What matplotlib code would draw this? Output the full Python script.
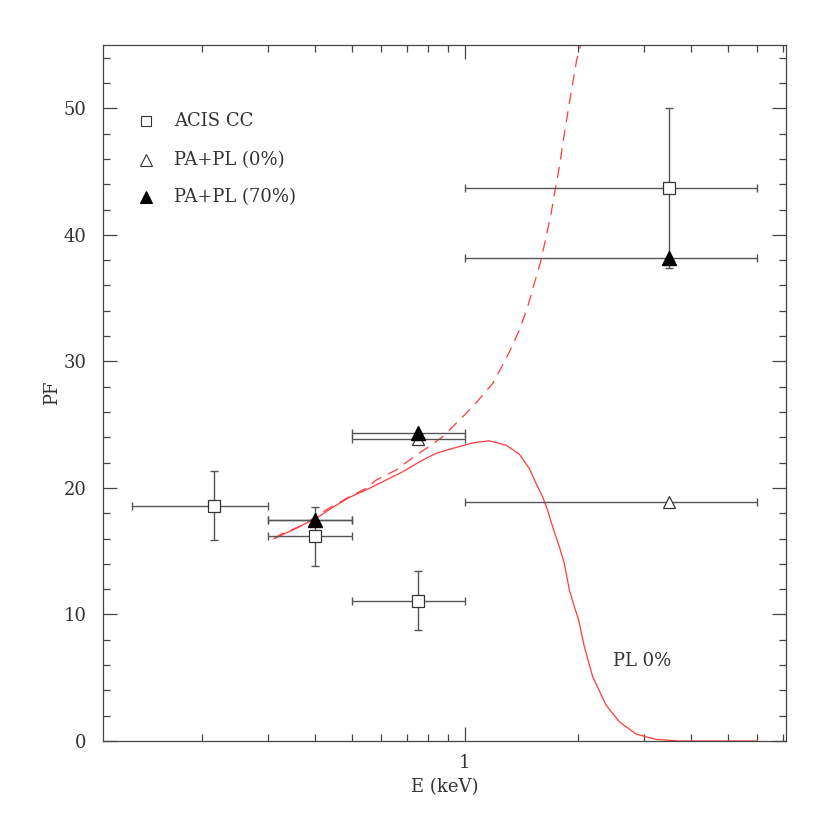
import matplotlib
matplotlib.use("Agg")
import matplotlib.pyplot as plt
import numpy as np
from matplotlib.ticker import MultipleLocator, LogLocator, NullFormatter

# ACIS CC points (open squares)
acis_e = [0.215, 0.40, 0.75, 3.5]
acis_elo = [0.13, 0.30, 0.50, 1.0]
acis_ehi = [0.30, 0.50, 1.00, 6.0]
acis_pf = [18.6, 16.2, 11.1, 43.7]
acis_pf_lo = [15.9, 13.8, 8.8, 37.4]
acis_pf_hi = [21.3, 18.5, 13.4, 50.0]

# PA+PL model points
pa_e = [0.40, 0.75, 3.5]
pa_elo = [0.30, 0.50, 1.0]
pa_ehi = [0.50, 1.00, 6.0]
pa0_pf = [17.5, 23.9, 18.9]
pa70_pf = [17.5, 24.3, 38.2]

# PL 0% curve (solid)
pl_e = [0.311, 0.348, 0.402, 0.445, 0.493, 0.557, 0.617, 0.683, 0.757, 0.838,
        0.928, 1.049, 1.162, 1.287, 1.396, 1.484, 1.547, 1.61, 1.66, 1.712,
        1.784, 1.839, 1.897, 1.955, 2.008, 2.079, 2.188, 2.374, 2.576, 2.853,
        3.225, 3.72, 6.0]
pl_pf = [16.0, 16.67, 17.59, 18.46, 19.25, 19.96, 20.62, 21.27, 22.06, 22.73,
         23.12, 23.56, 23.72, 23.38, 22.67, 21.54, 20.36, 19.30, 18.25, 16.93,
         15.35, 14.04, 11.93, 10.61, 9.56, 7.45, 5.08, 2.84, 1.52, 0.55,
         0.13, 0.0, 0.0]

# dashed curve
dash_e = [0.311, 0.321, 0.370, 0.427, 0.493, 0.546, 0.581, 0.656, 0.712, 0.789,
          0.873, 0.967, 1.049, 1.115, 1.186, 1.260, 1.327, 1.396, 1.469, 1.530,
          1.595, 1.644, 1.696, 1.741, 1.784, 1.828, 1.877, 1.935, 1.983, 2.037]
dash_pf = [16.0, 16.27, 17.06, 18.25, 19.30, 19.96, 20.62, 21.41, 22.20, 23.12,
           24.04, 25.36, 26.41, 27.33, 28.25, 29.70, 31.02, 32.46, 34.31, 36.15,
           37.99, 39.83, 41.68, 43.66, 45.36, 47.47, 49.58, 51.95, 53.79, 55.1]

plt.rcParams['font.family'] = ['DejaVu Serif']
fig = plt.figure(figsize=(8.3, 8.3), dpi=100)
ax = fig.add_axes([103/830, 89/830, 683/830, 696/830])

ax.set_xscale('log')
ax.set_xlim(0.109, 7.15)
ax.set_ylim(0, 55)

red = '#ff3b3b'
ax.plot(pl_e, pl_pf, color=red, lw=0.9)
ax.plot(dash_e, dash_pf, color=red, lw=0.9, dashes=(9, 6))

ecol = '#555555'
a_e = np.array(acis_e)
a_pf = np.array(acis_pf)
ax.errorbar(a_e, a_pf,
            xerr=[a_e - np.array(acis_elo), np.array(acis_ehi) - a_e],
            yerr=[a_pf - np.array(acis_pf_lo), np.array(acis_pf_hi) - a_pf],
            fmt='none', ecolor=ecol, elinewidth=1.0, capsize=3, capthick=1.0, zorder=2)
p_e = np.array(pa_e)
for pf in (pa0_pf, pa70_pf):
    ax.errorbar(p_e, pf, xerr=[p_e - np.array(pa_elo), np.array(pa_ehi) - p_e],
                fmt='none', ecolor=ecol, elinewidth=1.0, capsize=3, capthick=1.0, zorder=2)

ax.plot(acis_e, acis_pf, 's', ms=9, mfc='white', mec='#333333', mew=0.9, zorder=4)
ax.plot(pa_e, pa0_pf, '^', ms=9, mfc='white', mec='#333333', mew=0.9, zorder=4)
ax.plot(pa_e, pa70_pf, '^', ms=10, mfc='black', mec='black', zorder=5)

# legend keys
txtc = '#333333'
lx, tx = 0.063, 0.104
for yy, mk, fc, lab in [(0.891, 's', 'white', 'ACIS CC'),
                        (0.835, '^', 'white', 'PA+PL (0%)'),
                        (0.782, '^', 'black', 'PA+PL (70%)')]:
    ax.plot([lx], [yy], mk, ms=7 if mk == 's' else 8, mfc=fc,
            mec='black' if fc == 'black' else '#333333', mew=0.8,
            transform=ax.transAxes, clip_on=False)
    ax.text(tx, yy, lab, transform=ax.transAxes, fontsize=13, va='center',
            ha='left', color=txtc)

ax.text(2.48, 6.3, 'PL 0%', fontsize=13, va='center', ha='left', color=txtc)

ax.set_xlabel('E (keV)', fontsize=13, labelpad=5, color=txtc)
ax.set_ylabel('PF', fontsize=13, labelpad=2, color=txtc)

ax.xaxis.set_major_locator(LogLocator(base=10, subs=(1.0,)))
ax.xaxis.set_minor_locator(LogLocator(base=10, subs=np.arange(2, 10)))
ax.xaxis.set_minor_formatter(NullFormatter())
ax.xaxis.set_major_formatter(matplotlib.ticker.FuncFormatter(lambda v, p: '%g' % v))
ax.yaxis.set_major_locator(MultipleLocator(10))
ax.yaxis.set_minor_locator(MultipleLocator(2))

for s in ax.spines.values():
    s.set_color('#444444')
    s.set_linewidth(0.9)
ax.tick_params(which='both', direction='in', top=True, right=True,
               color='#444444', width=0.9, labelsize=13, labelcolor=txtc)
ax.tick_params(which='major', length=10)
ax.tick_params(which='minor', length=5)
ax.tick_params(axis='x', which='major', pad=9)
ax.tick_params(axis='y', which='major', pad=12)

fig.savefig('out.png', dpi=100)
